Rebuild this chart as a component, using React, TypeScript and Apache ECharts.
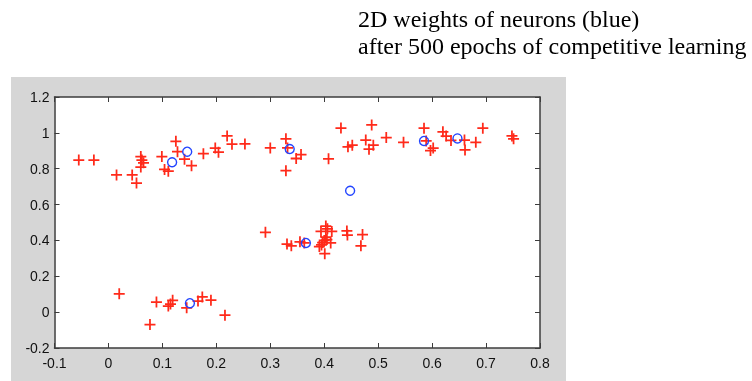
import React, { useEffect, useRef } from "react";
import * as echarts from "echarts";

const titleLines = ["2D weights of neurons (blue)", "after 500 epochs of competitive learning"];

const xTicks = [-0.1, 0, 0.1, 0.2, 0.3, 0.4, 0.5, 0.6, 0.7, 0.8];
const yTicks = [-0.2, 0, 0.2, 0.4, 0.6, 0.8, 1.0, 1.2];

// training inputs (red +)
const topClusterPoints: [number, number][] = [
  [-0.055, 0.848], [-0.027, 0.848], [0.015, 0.765], [0.044, 0.765], [0.052, 0.72],
  [0.06, 0.868], [0.062, 0.848], [0.065, 0.833], [0.06, 0.809], [0.099, 0.868],
  [0.104, 0.796], [0.111, 0.786], [0.125, 0.953], [0.128, 0.895], [0.141, 0.853],
  [0.154, 0.817], [0.176, 0.884], [0.198, 0.915], [0.204, 0.892], [0.22, 0.983],
  [0.229, 0.937], [0.253, 0.938], [0.3, 0.916], [0.329, 0.967], [0.332, 0.916],
  [0.329, 0.789], [0.348, 0.857], [0.357, 0.879], [0.408, 0.855], [0.431, 1.027],
  [0.444, 0.922], [0.452, 0.931], [0.488, 1.044], [0.477, 0.96], [0.483, 0.909],
  [0.491, 0.931], [0.515, 0.974], [0.547, 0.947], [0.585, 1.026], [0.589, 0.955],
  [0.597, 0.901], [0.602, 0.915], [0.62, 1.006], [0.626, 0.982], [0.635, 0.958],
  [0.66, 0.96], [0.661, 0.905], [0.681, 0.947], [0.694, 1.026], [0.748, 0.983],
  [0.751, 0.967],
];
const middleClusterPoints: [number, number][] = [
  [0.291, 0.445], [0.331, 0.38], [0.339, 0.37], [0.355, 0.392], [0.363, 0.386],
  [0.394, 0.45], [0.403, 0.48], [0.406, 0.465], [0.414, 0.45], [0.403, 0.418],
  [0.4, 0.4], [0.397, 0.388], [0.395, 0.375], [0.391, 0.366], [0.405, 0.405],
  [0.412, 0.386], [0.401, 0.326], [0.442, 0.453], [0.443, 0.43], [0.471, 0.433],
  [0.468, 0.37],
];
const bottomClusterPoints: [number, number][] = [
  [0.02, 0.102], [0.077, -0.069], [0.089, 0.056], [0.111, 0.034], [0.119, 0.066],
  [0.115, 0.045], [0.145, 0.024], [0.166, 0.062], [0.174, 0.085], [0.19, 0.067],
  [0.216, -0.017],
];

// neuron weights (blue o)
const neuronWeights: [number, number][] = [
  [0.118, 0.836], [0.146, 0.895], [0.336, 0.91], [0.448, 0.677],
  [0.585, 0.955], [0.647, 0.969], [0.366, 0.386], [0.151, 0.05],
];

const PLUS = "path://M4.2,0H5.8V4.2H10V5.8H5.8V10H4.2V5.8H0V4.2H4.2Z";

const fmt = (v: number) => String(Math.round(v * 10) / 10);

export default function App() {
  const ref = useRef<HTMLDivElement>(null);
  useEffect(() => {
    if (!ref.current) return;
    const chart = echarts.init(ref.current, null, { renderer: "svg" });
    const axisLineStyle = { color: "#3c3c3c", width: 1.5 };
    const tickStyle = { color: "#3c3c3c", width: 1 };
    const labelStyle = {
      color: "#111",
      fontFamily: "Liberation Sans, Arial, sans-serif",
      fontSize: 14,
    };
    chart.setOption({
      animation: false,
      backgroundColor: "transparent",
      title: {
        text: titleLines.join("\n"),
        left: 358,
        top: 5,
        padding: 0,
        textStyle: {
          fontFamily: "Liberation Serif, Times New Roman, serif",
          fontSize: 24,
          lineHeight: 27,
          fontWeight: "normal",
          color: "#000",
        },
      },
      graphic: [
        {
          type: "rect",
          z: -100,
          silent: true,
          shape: { x: 11, y: 77, width: 555, height: 304 },
          style: { fill: "#d6d6d6" },
        },
      ],
      grid: {
        left: 54.5,
        right: 212,
        top: 97,
        bottom: 33,
        show: true,
        backgroundColor: "#ffffff",
        borderWidth: 0,
      },
      xAxis: [
        {
          type: "value",
          min: xTicks[0],
          max: xTicks[xTicks.length - 1],
          interval: 0.1,
          position: "bottom",
          axisLine: { show: true, onZero: false, lineStyle: axisLineStyle },
          axisTick: { show: true, inside: true, length: 5, lineStyle: tickStyle },
          axisLabel: { ...labelStyle, margin: 8, formatter: fmt },
          splitLine: { show: false },
        },
        {
          type: "value",
          min: xTicks[0],
          max: xTicks[xTicks.length - 1],
          interval: 0.1,
          position: "top",
          axisLine: { show: true, onZero: false, lineStyle: axisLineStyle },
          axisTick: { show: true, inside: true, length: 5, lineStyle: tickStyle },
          axisLabel: { show: false },
          splitLine: { show: false },
        },
      ],
      yAxis: [
        {
          type: "value",
          min: yTicks[0],
          max: yTicks[yTicks.length - 1],
          interval: 0.2,
          position: "left",
          axisLine: { show: true, onZero: false, lineStyle: axisLineStyle },
          axisTick: { show: true, inside: true, length: 5, lineStyle: tickStyle },
          axisLabel: { ...labelStyle, margin: 5, formatter: fmt },
          splitLine: { show: false },
        },
        {
          type: "value",
          min: yTicks[0],
          max: yTicks[yTicks.length - 1],
          interval: 0.2,
          position: "right",
          axisLine: { show: true, onZero: false, lineStyle: axisLineStyle },
          axisTick: { show: true, inside: true, length: 5, lineStyle: tickStyle },
          axisLabel: { show: false },
          splitLine: { show: false },
        },
      ],
      series: [
        {
          type: "scatter",
          name: "inputs",
          data: [...topClusterPoints, ...middleClusterPoints, ...bottomClusterPoints],
          symbol: PLUS,
          symbolSize: 11,
          itemStyle: { color: "#ff2a1a", opacity: 1 },
          z: 2,
        },
        {
          type: "scatter",
          name: "neurons",
          data: neuronWeights,
          symbol: "circle",
          symbolSize: 9,
          itemStyle: { color: "rgba(0,0,0,0)", borderColor: "#2244ff", borderWidth: 1.4, opacity: 1 },
          z: 3,
        },
      ],
    });
    return () => chart.dispose();
  }, []);
  return (
    <div
      ref={ref}
      style={{ position: "fixed", left: 0, top: 0, width: 752, height: 381 }}
    />
  );
}
